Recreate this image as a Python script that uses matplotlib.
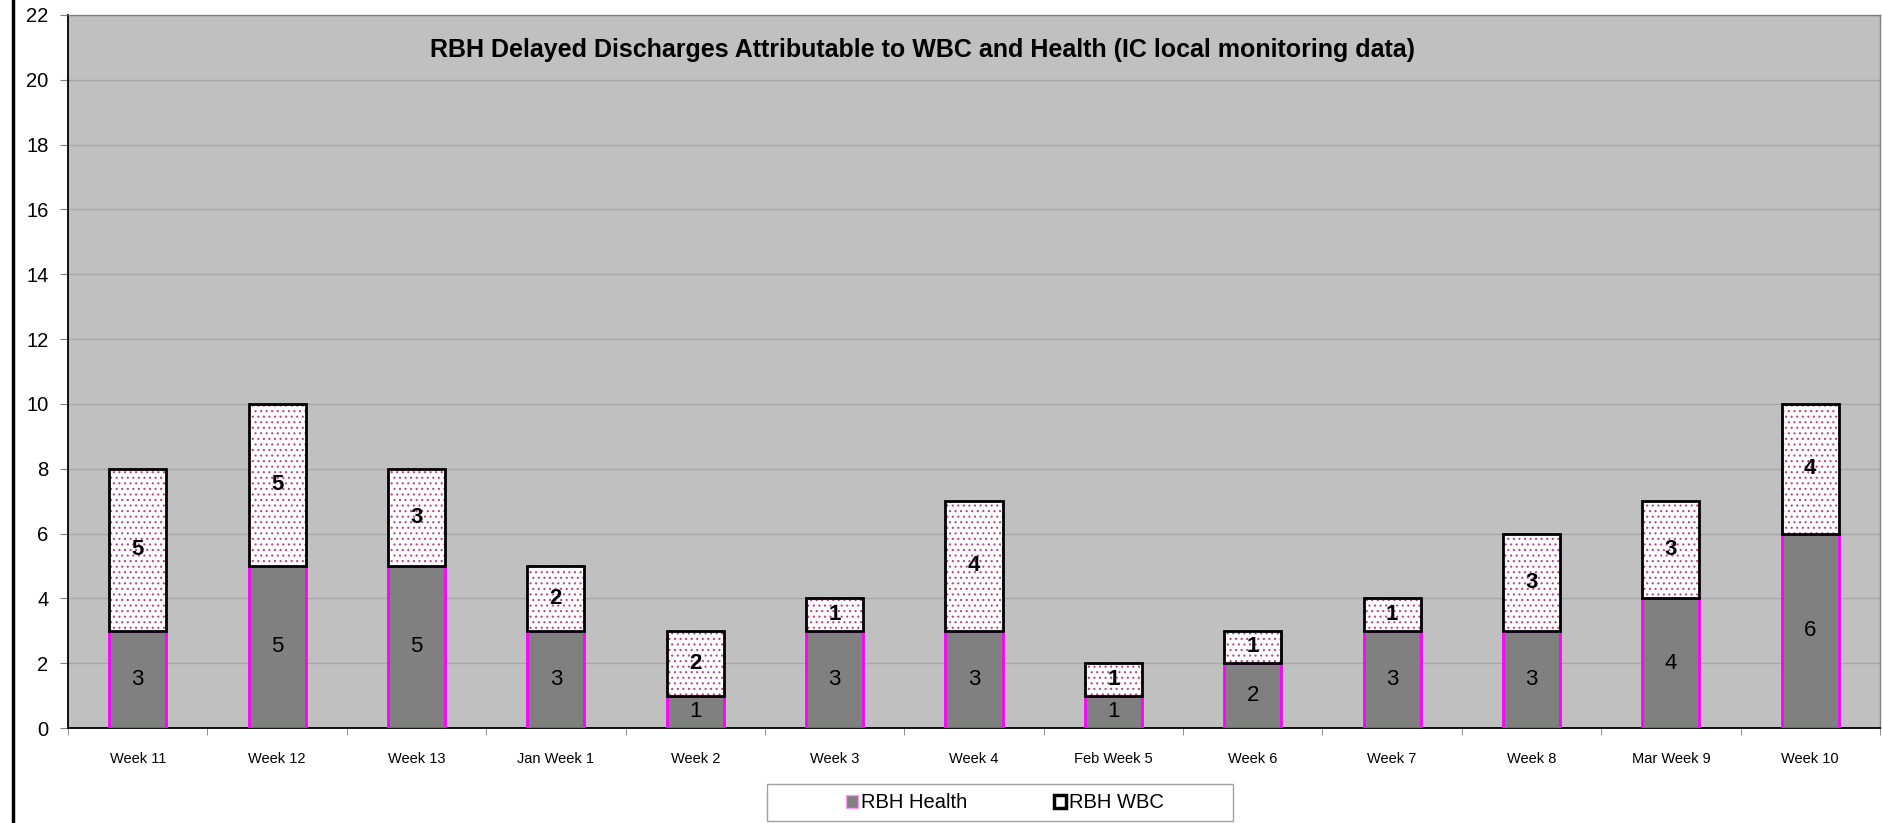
import matplotlib.pyplot as plt
import matplotlib.patches as mpatches
import numpy as np

categories = ["Week 11", "Week 12", "Week 13", "Jan Week 1", "Week 2", "Week 3",
              "Week 4", "Feb Week 5", "Week 6", "Week 7", "Week 8",
              "Mar Week 9", "Week 10"]
rbh_health = [3, 5, 5, 3, 1, 3, 3, 1, 2, 3, 3, 4, 6]
rbh_wbc = [5, 5, 3, 2, 2, 1, 4, 1, 1, 1, 3, 3, 4]

plt.rcParams["font.family"] = ["Liberation Sans", "DejaVu Sans"]
plt.rcParams["hatch.linewidth"] = 0.8

W, H = 1883, 823
fig = plt.figure(figsize=(W / 100, H / 100), dpi=100)
ax = fig.add_axes([68 / W, 1 - 728 / H, (1880 - 68) / W, (728 - 15) / H])
ax.set_facecolor("#c0c0c0")

x = np.arange(len(categories))
width = 0.41

ax.bar(x, rbh_health, width, color="#808080", edgecolor="#ff00ff",
       linewidth=2, zorder=3)
# dotted fill drawn first, then the black outline on top
ax.bar(x, rbh_wbc, width, bottom=rbh_health, color="white", hatch="...",
       edgecolor="#b04a80", linewidth=0, zorder=3)
ax.bar(x, rbh_wbc, width, bottom=rbh_health, fill=False, edgecolor="black",
       linewidth=2, zorder=4)

for xi, h, w in zip(x, rbh_health, rbh_wbc):
    ax.text(xi, h / 2, str(h), ha="center", va="center", fontsize=16,
            zorder=5)
    ax.text(xi, h + w / 2, str(w), ha="center", va="center", fontsize=16,
            fontweight="bold", zorder=5)

ax.set_ylim(0, 22)
ax.set_yticks(range(0, 23, 2))
ax.set_xlim(-0.5, len(categories) - 0.5)
ax.set_xticks(x)
ax.set_xticklabels(categories, fontsize=10.5)
ax.tick_params(axis="x", length=0, pad=17)
ax.set_xticks(np.arange(-0.5, len(categories)), minor=True)
ax.tick_params(axis="x", which="minor", length=5, color="#808080")
ax.tick_params(axis="y", labelsize=14.5, length=6, color="#808080", pad=8)
ax.yaxis.grid(True, color="#a8a8a8", linewidth=1)
ax.set_axisbelow(True)

for s in ["left", "bottom"]:
    ax.spines[s].set_color("black")
    ax.spines[s].set_linewidth(1.3)
for s in ["top", "right"]:
    ax.spines[s].set_color("#808080")
    ax.spines[s].set_linewidth(1)

fig.text(923 / W, 1 - 50 / H,
         "RBH Delayed Discharges Attributable to WBC and Health (IC local monitoring data)",
         ha="center", va="center", fontsize=18, fontweight="bold")

# legend box drawn by hand so it can be wider than its entries
fig.add_artist(mpatches.Rectangle((767 / W, 1 - 821 / H), (1233 - 767) / W,
                                  (821 - 784) / H, transform=fig.transFigure,
                                  facecolor="white", edgecolor="#a0a0a0",
                                  linewidth=1))
h1 = mpatches.Patch(facecolor="#808080", edgecolor="#ff99ff", linewidth=1)
h2 = mpatches.Patch(facecolor="white", edgecolor="black", linewidth=2.5)
fig.legend([h1, h2], ["RBH Health", "RBH WBC"], loc="center",
           bbox_to_anchor=(1005 / W, 1 - 803 / H), ncol=2,
           fontsize=14.5, frameon=False, handlelength=0.6,
           handleheight=0.6, handletextpad=0.15, columnspacing=4.3,
           borderpad=0, borderaxespad=0)

fig.add_artist(plt.Line2D([13 / W, 13 / W], [0, 1], color="black",
                          linewidth=2.5))

fig.savefig("out.png", dpi=100)
